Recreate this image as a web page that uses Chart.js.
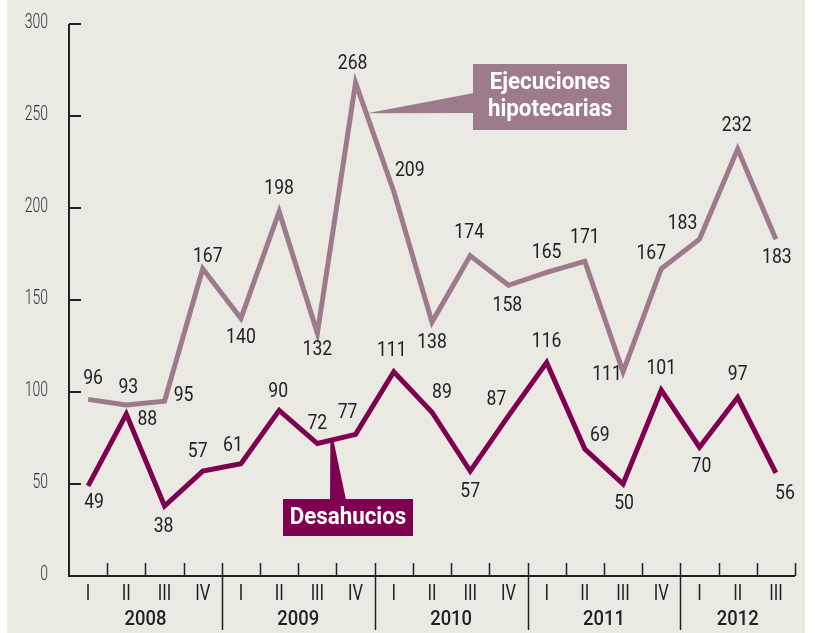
<!DOCTYPE html>
<html>
<head>
<meta charset="utf-8">
<script src="https://cdn.jsdelivr.net/npm/chart.js@4.4.1/dist/chart.umd.min.js"></script>
<style>
  html, body { margin: 0; padding: 0; background: #ffffff; }
  #wrap { width: 815px; height: 633px; position: relative; }
</style>
</head>
<body>
<div id="wrap"><canvas id="chart" width="815" height="633"></canvas></div>
<script>
// quarters 2008 I .. 2012 III
const quarters = ["I", "II", "III", "IV", "I", "II", "III", "IV", "I", "II", "III", "IV",
  "I", "II", "III", "IV", "I", "II", "III"];
const years = ["2008", "2009", "2010", "2011", "2012"];
const ejecuciones = [96, 93, 95, 167, 140, 198, 132, 268, 209, 138, 174, 158, 165, 171, 111, 167, 183, 232, 183];
const desahucios = [49, 88, 38, 57, 61, 90, 72, 77, 111, 89, 57, 87, 116, 69, 50, 101, 70, 97, 56];
const yTicks = [0, 50, 100, 150, 200, 250, 300];

// label offsets (dx, dy) from each point
const ejeOffsets = [[5, -20], [2, -17], [19, -5], [5, -12], [0, 20], [0, -23], [0, 17], [-3, -19],
  [16, -20], [0, 21], [-1, -23], [-1, 21], [0, -19], [0, -23], [-16, 3], [-10, -15], [-17, -15], [-1, -23], [1, 19]];
const desOffsets = [[6, 17], [21, 6], [-1, 21], [-5, -19], [-8, -18], [-1, -18], [0, -20], [-8, -21],
  [-2, -21], [10, -19], [0, 21], [-12, -16], [0, -21], [15, -13], [1, 20], [0, -21], [2, 20], [0, -23], [9, 21]];

const COL_EJE = "#9d7b8c";
const COL_DES = "#7f0050";
const BG = "#eae9e2";
const FONT = "Roboto, 'Liberation Sans', sans-serif";

// draws text squeezed horizontally to imitate a condensed face
function drawText(ctx, text, x, y, font, sx, color) {
  ctx.save();
  ctx.font = font;
  ctx.fillStyle = color;
  ctx.translate(x, y);
  ctx.scale(sx, 1);
  ctx.fillText(text, 0, 0);
  ctx.restore();
}

const decorPlugin = {
  id: "decor",
  beforeDraw(chart) {
    const ctx = chart.ctx;
    ctx.save();
    ctx.fillStyle = "#ffffff";
    ctx.fillRect(0, 0, chart.width, chart.height);
    ctx.fillStyle = BG;
    ctx.fillRect(7, 0, 798, chart.height);
    ctx.restore();
  },
  beforeDatasetsDraw(chart) {
    const ctx = chart.ctx;
    const x = chart.scales.x;
    const y = chart.scales.y;
    const area = chart.chartArea;
    const y0 = y.getPixelForValue(0);
    ctx.save();
    ctx.strokeStyle = "#222";
    ctx.lineWidth = 2;
    // y axis
    ctx.beginPath();
    ctx.moveTo(area.left, y.getPixelForValue(300));
    ctx.lineTo(area.left, y0);
    ctx.lineTo(area.right, y0);
    ctx.stroke();
    ctx.textAlign = "right";
    ctx.textBaseline = "middle";
    yTicks.forEach(function (v) {
      const py = y.getPixelForValue(v);
      if (v > 0) {
        ctx.beginPath();
        ctx.moveTo(area.left, py);
        ctx.lineTo(area.left + 12, py);
        ctx.stroke();
      }
      drawText(ctx, String(v), area.left - 21, py - 1, "300 20px " + FONT, 0.7, "#333");
    });
    // x ticks at category boundaries
    ctx.lineWidth = 1.5;
    const half = (x.getPixelForValue(1) - x.getPixelForValue(0)) / 2;
    for (let i = 1; i <= quarters.length; i++) {
      const px = Math.round(x.getPixelForValue(i - 1) + half) + 0.5;
      const isYear = i % 4 === 0 && i < quarters.length;
      ctx.beginPath();
      ctx.moveTo(px, y0 - 13);
      ctx.lineTo(px, isYear ? y0 + 54 : y0);
      ctx.stroke();
    }
    // quarter labels
    ctx.textAlign = "center";
    quarters.forEach(function (q, i) {
      drawText(ctx, q, x.getPixelForValue(i), y0 + 18, "22px " + FONT, 0.75, "#222");
    });
    // year labels
    years.forEach(function (yr, k) {
      const first = k * 4;
      const last = Math.min(first + 3, quarters.length - 1);
      const cx = (x.getPixelForValue(first) + x.getPixelForValue(last)) / 2;
      drawText(ctx, yr, cx, y0 + 44, "500 20px " + FONT, 0.92, "#222");
    });
    ctx.restore();
  },
  afterDatasetsDraw(chart) {
    const ctx = chart.ctx;
    ctx.save();
    ctx.textAlign = "center";
    ctx.textBaseline = "middle";
    [[0, ejeOffsets], [1, desOffsets]].forEach(function (pair) {
      const meta = chart.getDatasetMeta(pair[0]);
      const vals = chart.data.datasets[pair[0]].data;
      meta.data.forEach(function (pt, i) {
        drawText(ctx, String(vals[i]), pt.x + pair[1][i][0], pt.y + pair[1][i][1],
          "20px " + FONT, 0.88, "#222");
      });
    });

    // callout: Ejecuciones hipotecarias
    const e = chart.getDatasetMeta(0).data;
    const tx = e[7].x + (e[8].x - e[7].x) * 0.3;
    const ty = e[7].y + (e[8].y - e[7].y) * 0.28;
    ctx.fillStyle = COL_EJE;
    ctx.beginPath();
    ctx.moveTo(474, 93);
    ctx.lineTo(474, 113);
    ctx.lineTo(tx, ty);
    ctx.closePath();
    ctx.fill();
    ctx.fillRect(473, 64, 154, 66);
    drawText(ctx, "Ejecuciones", 550, 83, "bold 24px " + FONT, 0.93, "#ffffff");
    drawText(ctx, "hipotecarias", 550, 110, "bold 24px " + FONT, 0.93, "#ffffff");

    // callout: Desahucios
    const d = chart.getDatasetMeta(1).data;
    const dx = d[6].x + (d[7].x - d[6].x) * 0.38;
    const dy = d[6].y + (d[7].y - d[6].y) * 0.38;
    ctx.fillStyle = COL_DES;
    ctx.beginPath();
    ctx.moveTo(dx - 1.5, dy);
    ctx.lineTo(dx + 1.5, dy);
    ctx.lineTo(346, 500);
    ctx.lineTo(330, 500);
    ctx.closePath();
    ctx.fill();
    ctx.fillRect(283, 499, 130, 37);
    drawText(ctx, "Desahucios", 348, 518, "bold 24px " + FONT, 0.93, "#ffffff");
    ctx.restore();
  }
};

new Chart(document.getElementById("chart"), {
  type: "line",
  data: {
    labels: quarters.map(function (q, i) { return q + "-" + i; }),
    datasets: [
      {
        label: "Ejecuciones hipotecarias",
        data: ejecuciones,
        borderColor: COL_EJE,
        borderWidth: 5,
        pointRadius: 0,
        tension: 0,
        borderJoinStyle: "miter"
      },
      {
        label: "Desahucios",
        data: desahucios,
        borderColor: COL_DES,
        borderWidth: 5,
        pointRadius: 0,
        tension: 0,
        borderJoinStyle: "miter"
      }
    ]
  },
  options: {
    responsive: false,
    animation: false,
    layout: { padding: { left: 69, right: 20, top: 24, bottom: 57 } },
    plugins: { legend: { display: false }, tooltip: { enabled: false } },
    scales: {
      x: { type: "category", offset: true, display: false },
      y: { min: 0, max: 300, display: false }
    }
  },
  plugins: [decorPlugin]
});
</script>
</body>
</html>
